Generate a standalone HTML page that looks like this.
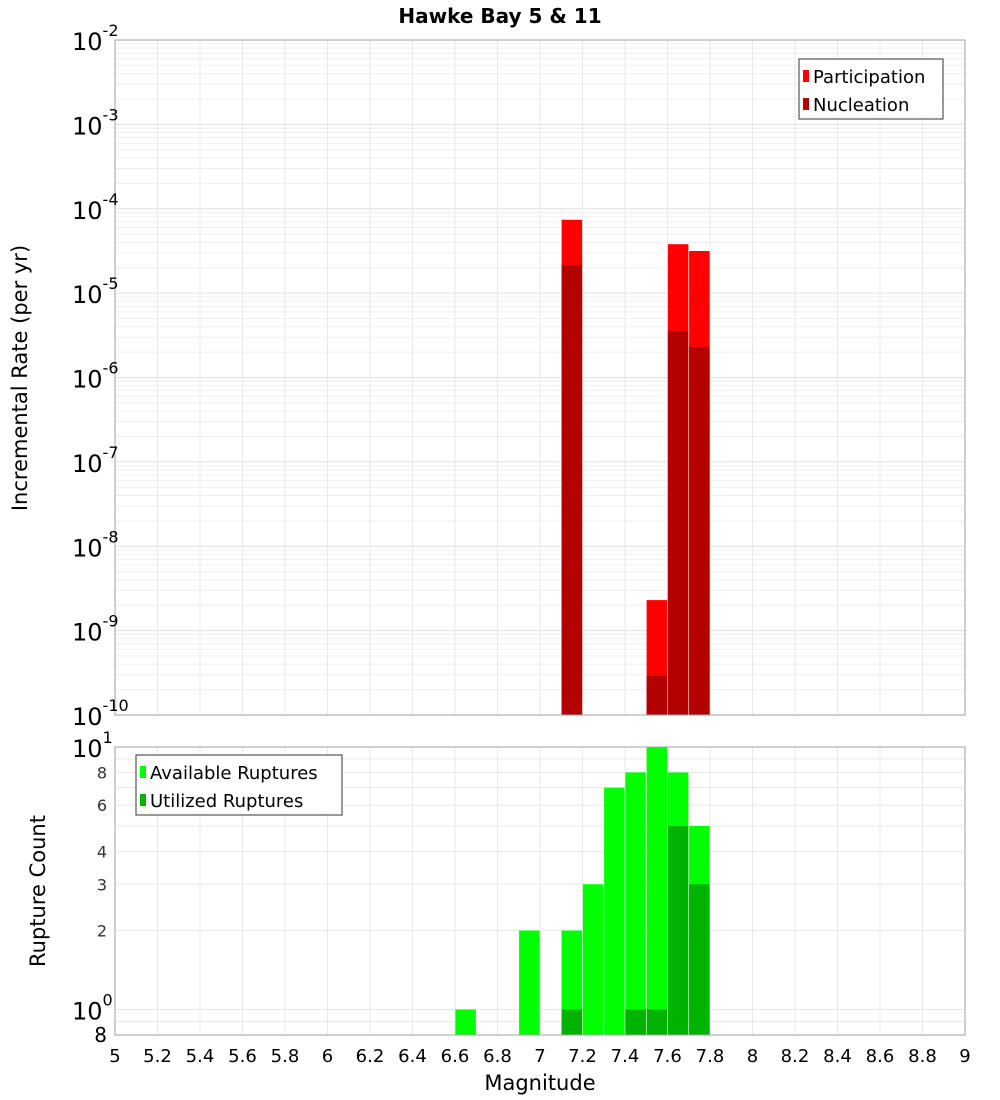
<!DOCTYPE html>
<html><head><meta charset="utf-8"><style>
body{margin:0;background:#fff;}
svg{display:block;font-family:"DejaVu Sans","Liberation Sans",sans-serif;}
</style></head><body>
<svg id="c" width="1000" height="1100">
<text x="500" y="23" text-anchor="middle" font-size="20" font-weight="bold">Hawke Bay 5 &amp; 11</text>
<text transform="translate(27,378) rotate(-90)" text-anchor="middle" font-size="21">Incremental Rate (per yr)</text>
<text transform="translate(45,891) rotate(-90)" text-anchor="middle" font-size="21">Rupture Count</text>
<text x="540" y="1090" text-anchor="middle" font-size="21">Magnitude</text>
</svg>
<script>
const bins=[6.65,6.95,7.15,7.25,7.35,7.45,7.55,7.65,7.75];
const participation=[0,0,7.4e-5,0,0,0,2.3e-9,3.8e-5,3.16e-5];
const nucleation=[0,0,2.15e-5,0,0,0,2.9e-10,3.56e-6,2.3e-6];
const available=[1,2,2,3,7,8,10,8,5];
const utilized=[0,0,1,0,0,1,1,5,3];
const xTicks=["5","5.2","5.4","5.6","5.8","6","6.2","6.4","6.6","6.8","7","7.2","7.4","7.6","7.8","8","8.2","8.4","8.6","8.8","9"];
const topExps=[-2,-3,-4,-5,-6,-7,-8,-9,-10];
const botTicks=[8,6,4,3,2];

const svg=document.getElementById('c');const NS='http://www.w3.org/2000/svg';
function mk(t,a,p){const e=document.createElementNS(NS,t);for(const k in a)e.setAttribute(k,a[k]);(p||svg).appendChild(e);return e;}
const X0=115,X1=965;
const xs=m=>X0+(m-5)/4*(X1-X0);
const T0=40,T1=715;
const yTop=v=>T0+(-2-Math.log10(v))/8*(T1-T0);
const B0=747,B1=1035,bMin=Math.log10(0.8);
const yBot=v=>B0+(1-Math.log10(v))/(1-bMin)*(B1-B0);

// grids
for(let e=-10;e<-2;e++)for(let k=1;k<10;k++){const y=yTop(k*Math.pow(10,e));
 const l=mk('line',{x1:X0,x2:X1,y1:y,y2:y,stroke:k==1?'#e0e0e0':'#efefef','stroke-width':1});
 }
[0.8,0.9,1,2,3,4,5,6,7,8,9].forEach(v=>{const y=yBot(v);
 const l=mk('line',{x1:X0,x2:X1,y1:y,y2:y,stroke:'#e8e8e8'});
 });
xTicks.forEach(t=>{const x=xs(+t);
 [[T0,T1],[B0,B1]].forEach(r=>{const l=mk('line',{x1:x,x2:x,y1:r[0],y2:r[1],stroke:'#e8e8e8'});
 });
 const tx=mk('text',{x:x,y:1062,'text-anchor':'middle','font-size':18});tx.textContent=t;
 });
// bars
const bw=20.5;
bins.forEach((m,i)=>{const x=xs(m)-bw/2;
 if(participation[i]>0){const r=mk('rect',{x:x,y:yTop(participation[i]),width:bw,height:T1-yTop(participation[i]),fill:'#ff0000'});
  }
 if(nucleation[i]>0){const r=mk('rect',{x:x,y:yTop(nucleation[i]),width:bw,height:T1-yTop(nucleation[i]),fill:'#b30000'});
  }
 if(available[i]>0){const r=mk('rect',{x:x,y:yBot(available[i]),width:bw,height:B1-yBot(available[i]),fill:'#00ff00'});
  }
 if(utilized[i]>0){const r=mk('rect',{x:x,y:yBot(utilized[i]),width:bw,height:B1-yBot(utilized[i]),fill:'#00b300'});
  }
});
// frames
let f=mk('rect',{x:X0,y:T0,width:X1-X0,height:T1-T0,fill:'none',stroke:'#a0a0a0'});

f=mk('rect',{x:X0,y:B0,width:X1-X0,height:B1-B0,fill:'none',stroke:'#a0a0a0'});

// top y ticks
topExps.forEach(e=>{const y=yTop(Math.pow(10,e));
 const g=mk('text',{x:72,y:y+10,'font-size':24});g.textContent='10';
 
 const s=mk('tspan',{dx:0,dy:-14,'font-size':16},g);s.textContent=String(e);});
// bottom y ticks
[[1,'10','1'],[1e0,'10','0']].forEach((d,i)=>{});
let g=mk('text',{x:72,y:yBot(10)+10,'font-size':24});g.textContent='10';

let s=mk('tspan',{dy:-14,'font-size':16},g);s.textContent='1';
g=mk('text',{x:72,y:yBot(1)+10,'font-size':24});g.textContent='10';

s=mk('tspan',{dy:-14,'font-size':16},g);s.textContent='0';
g=mk('text',{x:107,y:yBot(0.8)+7,'font-size':20,'text-anchor':'end'});g.textContent='8';

botTicks.forEach(v=>{const t=mk('text',{x:107,y:yBot(v)+6,'font-size':16,'text-anchor':'end',fill:'#333'});t.textContent=String(v);
 });
// legends
function legend(x,y,w,items,name){const G=mk('g',{});
 mk('rect',{x:x,y:y,width:w,height:60,fill:'#fff',stroke:'#333'},G);
 items.forEach((it,i)=>{const r=mk('rect',{x:x+4,y:y+11+i*28,width:6,height:12,fill:it[1]},G);
  
  const t=mk('text',{x:x+14,y:y+24+i*28,'font-size':18},G);t.textContent=it[0];
  });}
legend(799,59,144,[['Participation','#ff0000'],['Nucleation','#b30000']],'top-legend');
legend(136,755,206,[['Available Ruptures','#00ff00'],['Utilized Ruptures','#00b300']],'bottom-legend');
</script>
</body></html>
